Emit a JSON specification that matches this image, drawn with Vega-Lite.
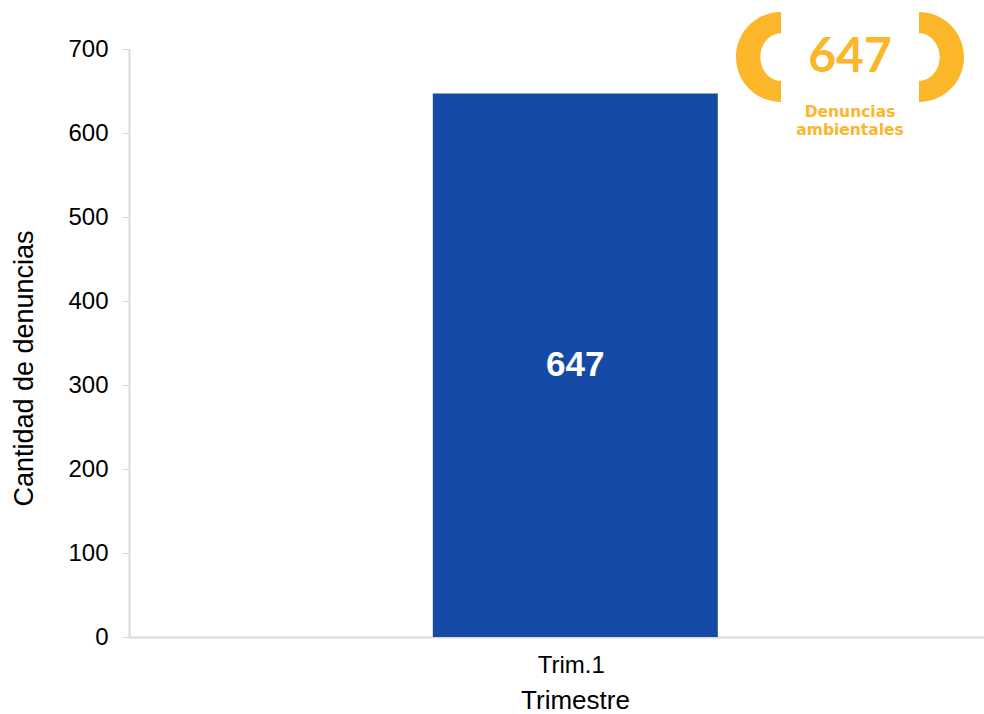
{
  "$schema": "https://vega.github.io/schema/vega-lite/v6.json",
  "width": 855,
  "height": 588,
  "autosize": "none",
  "padding": {"left": 129, "top": 49, "right": 0, "bottom": 77},
  "background": "white",
  "config": {"view": {"stroke": null}, "font": "Liberation Sans"},
  "datasets": {
    "trimestres": [{"Trimestre": "Trim.1", "Denuncias": 647}],
    "resumen": [{"total": 647, "etiqueta": ["Denuncias", "ambientales"]}]
  },
  "layer": [
    {
      "data": {"name": "trimestres"},
      "layer": [
        {
          "mark": {"type": "bar", "color": "#154BA6"},
          "encoding": {
            "x": {
              "field": "Trimestre",
              "type": "nominal",
              "scale": {"paddingInner": 0, "paddingOuter": 1.0214, "align": 0.533},
              "axis": {
                "title": "Trimestre",
                "labelAngle": 0,
                "ticks": false,
                "domainColor": "#d9d9d9",
                "domainWidth": 2,
                "labelFontSize": 24,
                "labelPadding": 16,
                "labelOffset": -4,
                "labelColor": "#000000",
                "titleFontSize": 26,
                "titleFontWeight": "normal",
                "titleColor": "#000000",
                "titlePadding": 10,
                "titleX": 446
              }
            },
            "y": {
              "field": "Denuncias",
              "type": "quantitative",
              "scale": {"domain": [0, 700], "nice": false},
              "axis": {
                "title": "Cantidad de denuncias",
                "values": [0, 100, 200, 300, 400, 500, 600, 700],
                "grid": false,
                "domainColor": "#d9d9d9",
                "domainWidth": 2,
                "tickColor": "#d9d9d9",
                "tickSize": 7,
                "labelFontSize": 24,
                "labelPadding": 14,
                "labelColor": "#000000",
                "titleFontSize": 27,
                "titleFontWeight": "normal",
                "titleColor": "#000000",
                "titlePadding": 29,
                "titleY": 319
              }
            }
          }
        },
        {
          "transform": [{"calculate": "datum.Denuncias / 2", "as": "mitad"}],
          "mark": {"type": "text", "color": "#ffffff", "fontSize": 35, "fontWeight": "bold", "baseline": "middle"},
          "encoding": {
            "x": {"field": "Trimestre", "type": "nominal"},
            "y": {"field": "mitad", "type": "quantitative"},
            "text": {"field": "Denuncias", "type": "quantitative"}
          }
        }
      ]
    },
    {
      "data": {"name": "resumen"},
      "layer": [
        {
          "mark": {"type": "point", "filled": true, "opacity": 1, "color": "#FBB62A", "strokeWidth": 0, "size": 8100,
                   "shape": "M0,-1 A1,1 0 0 0 0,1 L0,0.53 A0.46,0.53 0 0 1 0,-0.53 Z"},
          "encoding": {
            "x": {"datum": 0.7626, "type": "quantitative", "scale": {"domain": [0, 1]}, "axis": null},
            "y": {"datum": 690.5, "type": "quantitative", "scale": {"domain": [0, 700], "nice": false}, "axis": null}
          }
        },
        {
          "mark": {"type": "point", "filled": true, "opacity": 1, "color": "#FBB62A", "strokeWidth": 0, "size": 8100,
                   "shape": "M0,-1 A1,1 0 0 1 0,1 L0,0.53 A0.46,0.53 0 0 0 0,-0.53 Z"},
          "encoding": {
            "x": {"datum": 0.924, "type": "quantitative"},
            "y": {"datum": 690.5, "type": "quantitative"}
          }
        },
        {
          "mark": {"type": "text", "color": "#FBB62A", "font": "Lato", "fontWeight": "bold", "fontSize": 48, "baseline": "middle", "align": "center"},
          "encoding": {
            "x": {"datum": 0.8433, "type": "quantitative"},
            "y": {"datum": 689, "type": "quantitative"},
            "text": {"field": "total", "type": "quantitative"}
          }
        },
        {
          "mark": {"type": "text", "color": "#FBB62A", "font": "DejaVu Sans", "fontWeight": "bold", "fontSize": 15.5, "lineHeight": 18, "baseline": "middle", "align": "center"},
          "encoding": {
            "x": {"datum": 0.8433, "type": "quantitative"},
            "y": {"datum": 624.7, "type": "quantitative"},
            "text": {"field": "etiqueta", "type": "nominal"}
          }
        }
      ]
    }
  ],
  "resolve": {"scale": {"x": "independent", "y": "independent"}}
}
